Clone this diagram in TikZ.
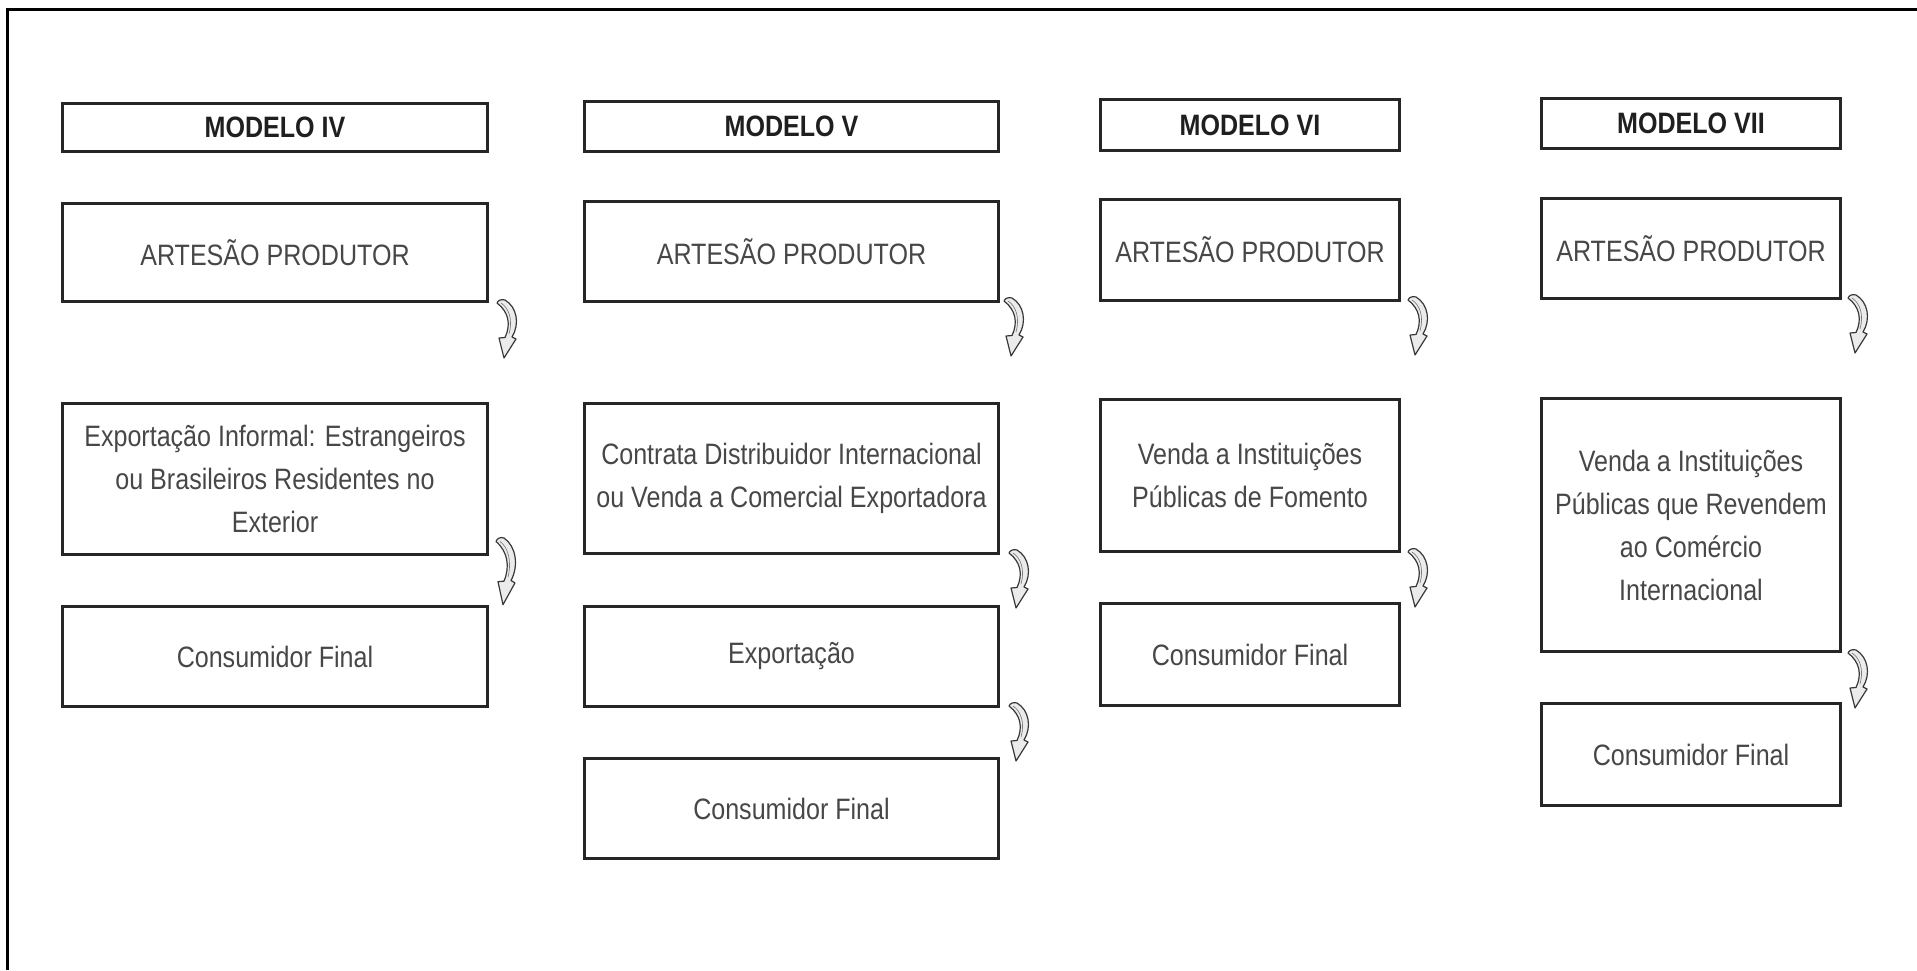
\documentclass[tikz,border=0pt]{standalone}
\usepackage{fontspec}
\setmainfont{Liberation Sans}[FakeStretch=0.85]
\usetikzlibrary{calc}
\begin{document}
\begin{tikzpicture}[x=1pt,y=-1pt,
  box/.style={draw=black!85, line width=3pt, rectangle, inner sep=0pt, align=center,
    text=black!72, font=\fontsize{29.5}{43}\selectfont},
  titlebox/.style={box, text=black!88, font=\fontsize{29.5}{34}\selectfont\bfseries},
  ribbonarrow/.pic={
    \filldraw[draw=black!78, fill=black!8, line width=1.2pt, line join=round]
      (0,3) .. controls (1,0) and (5,-1) .. (8,0)
      .. controls (20,7) and (23,24) .. (15,37)
      -- (19,39) -- (7,58) -- (2,38) -- (8,37.5)
      .. controls (14,25) and (12,12) .. (0,3) -- cycle;
    \draw[black!55, line width=0.6pt] (4,3) .. controls (12,8) and (16,20) .. (12,34);
  }]
\useasboundingbox (0,0) rectangle (1917,970);
% frame
\draw[line width=3pt, black] (7,970) -- (7,9) -- (1917,9);

% Modelo IV
\node[titlebox, minimum width=425pt, minimum height=48pt] (m4) at (275,127.5) {MODELO IV};
\node[box, minimum width=425pt, minimum height=98pt] (a4) at (275,252.5) {ARTESÃO PRODUTOR};
\node[box, minimum width=425pt, minimum height=151pt] (e4) at (275,479) {Exportação Informal: Estrangeiros\\ou Brasileiros Residentes no\\Exterior};
\node[box, minimum width=425pt, minimum height=100pt] (c4) at (275,656.5) {Consumidor Final};

% Modelo V
\node[titlebox, minimum width=414pt, minimum height=50pt] (m5) at (791.5,126.5) {MODELO V};
\node[box, minimum width=414pt, minimum height=100pt] (a5) at (791.5,251.5) {ARTESÃO PRODUTOR};
\node[box, minimum width=414pt, minimum height=150pt] (d5) at (791.5,478.5) {Contrata Distribuidor Internacional\\ou Venda a Comercial Exportadora};
\node[box, minimum width=414pt, minimum height=100pt] (x5) at (791.5,656.5) {Exportação};
\node[box, minimum width=414pt, minimum height=100pt] (c5) at (791.5,808.5) {Consumidor Final};

% Modelo VI
\node[titlebox, minimum width=299pt, minimum height=51pt] (m6) at (1250,125) {MODELO VI};
\node[box, minimum width=299pt, minimum height=101pt] (a6) at (1250,250) {ARTESÃO PRODUTOR};
\node[box, minimum width=299pt, minimum height=152pt] (v6) at (1250,475.5) {Venda a Instituições\\Públicas de Fomento};
\node[box, minimum width=299pt, minimum height=102pt] (c6) at (1250,654.5) {Consumidor Final};

% Modelo VII
\node[titlebox, minimum width=299pt, minimum height=50pt] (m7) at (1691,123.5) {MODELO VII};
\node[box, minimum width=299pt, minimum height=100pt] (a7) at (1691,248.5) {ARTESÃO PRODUTOR};
\node[box, minimum width=299pt, minimum height=253pt] (v7) at (1691,525) {Venda a Instituições\\Públicas que Revendem\\ao Comércio\\Internacional};
\node[box, minimum width=299pt, minimum height=102pt] (c7) at (1691,754.5) {Consumidor Final};

% connectors (ribbon arrows from source box towards target box)
\pic at ($(a4.south east)+(8,-3)$) {ribbonarrow};
\pic[yscale=1.15] at ($(e4.south east)+(7,-18)$) {ribbonarrow};
\pic at ($(a5.south east)+(4,-5)$) {ribbonarrow};
\pic at ($(d5.south east)+(9,-5)$) {ribbonarrow};
\pic at ($(x5.south east)+(9,-5)$) {ribbonarrow};
\pic at ($(a6.south east)+(7,-5)$) {ribbonarrow};
\pic at ($(v6.south east)+(7,-4)$) {ribbonarrow};
\pic at ($(a7.south east)+(6,-5)$) {ribbonarrow};
\pic at ($(v7.south east)+(6,-3)$) {ribbonarrow};
\end{tikzpicture}
\end{document}
